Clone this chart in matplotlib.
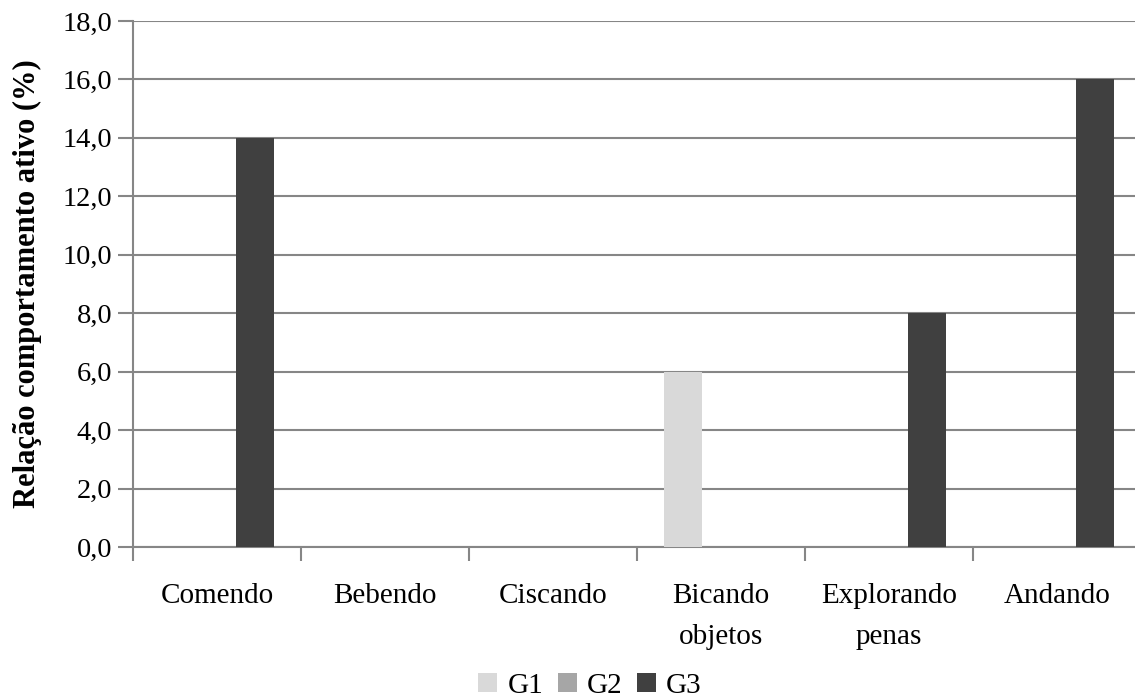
import numpy as np
import matplotlib
matplotlib.use("Agg")
import matplotlib.pyplot as plt
from matplotlib.ticker import FixedLocator, FuncFormatter

plt.rcParams["font.family"] = ["Liberation Serif", "DejaVu Serif"]

categories = ["Comendo", "Bebendo", "Ciscando", "Bicando\nobjetos",
              "Explorando\npenas", "Andando"]
groups = ["G1", "G2", "G3"]
g1 = [0.0, 0.0, 0.0, 6.0, 0.0, 0.0]
g2 = [0.0, 0.0, 0.0, 0.0, 0.0, 0.0]
g3 = [14.0, 0.0, 0.0, 0.0, 8.0, 16.0]
colors = ["#D9D9D9", "#A6A6A6", "#404040"]

W, H = 1135, 699
fig = plt.figure(figsize=(W / 100, H / 100), dpi=100)
ax = fig.add_axes([133 / W, (H - 547) / H, (1141 - 133) / W, (547 - 21) / H])

x = np.arange(len(categories))
bw = 0.226
for i, (vals, name) in enumerate(zip([g1, g2, g3], groups)):
    ax.bar(x + (i - 1) * bw, vals, width=bw, color=colors[i], label=name,
           zorder=3)

ax.set_xlim(-0.5, len(categories) - 0.5)
ax.set_ylim(0, 18)
ax.set_yticks(np.arange(0, 18.1, 2))
ax.yaxis.set_major_formatter(FuncFormatter(lambda v, p: f"{v:.1f}".replace(".", ",")))
ax.yaxis.grid(True, color="#868686", linewidth=1.5, zorder=0)

# category labels centred, tick marks on the boundaries
ax.set_xticks(x)
ax.set_xticklabels(categories, linespacing=1.75)
ax.tick_params(axis="x", which="major", length=0, pad=26, labelsize=21)
ax.xaxis.set_minor_locator(FixedLocator(np.arange(-0.5, len(categories), 1)))
ax.tick_params(axis="x", which="minor", length=10, width=1.5, color="#868686")
ax.tick_params(axis="y", length=11, width=1.5, color="#868686", labelsize=20.5,
               pad=4)

for s in ["top", "right"]:
    ax.spines[s].set_visible(False)
for s in ["left", "bottom"]:
    ax.spines[s].set_color("#868686")
    ax.spines[s].set_linewidth(1.5)

ax.set_ylabel("Relação comportamento ativo (%)", fontsize=22,
              fontweight="bold", labelpad=15)

fig.legend(loc="center", bbox_to_anchor=(590 / W, 1 - 686 / H), ncol=3,
           frameon=False, fontsize=21, handlelength=0.65, handleheight=0.65,
           handletextpad=0.35, columnspacing=0.5, borderpad=0)

fig.savefig("out.png", dpi=100)
